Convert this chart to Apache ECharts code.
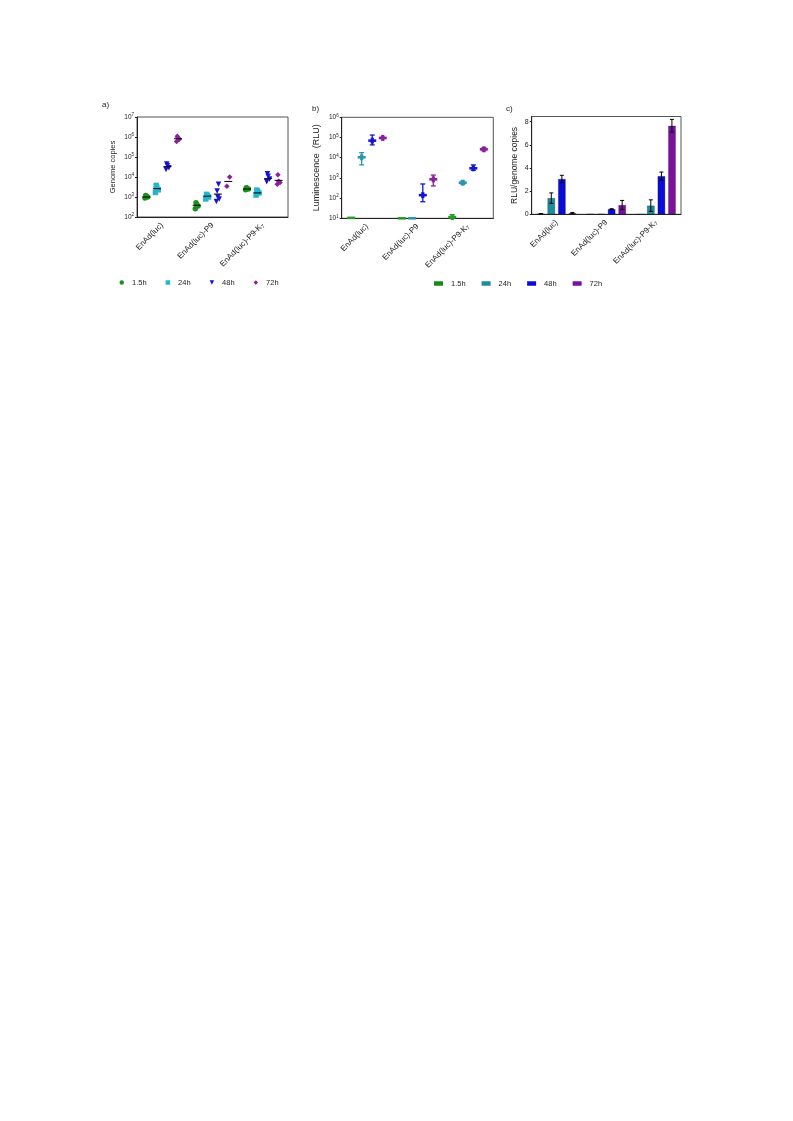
<!DOCTYPE html>
<html><head><meta charset="utf-8">
<script src="https://cdn.jsdelivr.net/npm/echarts@6/dist/echarts.min.js"></script>
<style>html,body{margin:0;padding:0;background:#fff}#c{width:793px;height:1121px}</style>
</head><body><div id="c"></div><script>
// ---------- data ----------
const categories = ['EnAd(luc)', 'EnAd(luc)-P9', 'EnAd(luc)-P9-K7'];
const timepoints = ['1.5h', '24h', '48h', '72h'];

// Panel a: genome copies, replicate points per category
const aRep15 = [[900, 1000, 1100, 1200], [260, 350, 420, 520], [2300, 2500, 2700, 2900]];
const aRep24 = [[1700, 2300, 3000, 3800], [800, 1000, 1200, 1350], [1250, 1600, 1950, 2200]];
const aRep48 = [[24000, 29000, 36000, 45000], [600, 800, 1000, 2000, 4300], [5800, 8000, 11000, 14500]];
const aRep72 = [[600000, 780000, 950000, 1100000], [3400, 10000], [4300, 5300, 6200, 13000]];
// Panel a: mean lines
const aMean15 = [1000, 385, 2500];
const aMean24 = [2600, 1100, 1600];
const aMean48 = [33000, 1400, 8300];
const aMean72 = [820000, 6000, 6800];

// Panel b: luminescence (RLU) mean, low, high
const bMean15 = [10.5, 10, 11.5];
const bLow15 = [10, 10, 10];
const bHigh15 = [11, 10, 15];
const bMean24 = [10500, 10, 580];
const bLow24 = [4400, 10, 480];
const bHigh24 = [17800, 10, 700];
const bMean48 = [70000, 140, 3000];
const bLow48 = [43000, 66, 2400];
const bHigh48 = [132000, 500, 4400];
const bMean72 = [95000, 850, 26000];
const bLow72 = [88000, 400, 22000];
const bHigh72 = [102000, 1380, 31000];

// Panel c: RLU / genome copies, mean and SD
const cMean15 = [0.05, 0.02, 0];
const cErr15 = [0.02, 0, 0];
const cMean24 = [1.4, 0.03, 0.75];
const cErr24 = [0.45, 0, 0.5];
const cMean48 = [3.05, 0.45, 3.3];
const cErr48 = [0.32, 0.03, 0.35];
const cMean72 = [0.1, 0.8, 7.65];
const cErr72 = [0.06, 0.4, 0.55];

// ---------- styles ----------
const FONT = 'Liberation Sans, Arial, sans-serif';
const colA = ['#1f8f1f', '#27b4cc', '#1414d2', '#8c1f9c'];
const colB = ['#2a9a2a', '#2a98aa', '#1414d2', '#8c1f9c'];
const colC = ['#168c16', '#1d8c9c', '#0c0cd8', '#7a10a0'];
const symA = ['circle', 'rect', 'path://M0,0 L10,0 L5,10 Z', 'diamond'];
const offs = [-15.8, -5.3, 5.3, 15.8];
const jitterPattern = [-1.4, 1.4, 0, -0.7, 0.7];

const gridA = { left: 137, top: 117, width: 151, height: 100 };
const gridB = { left: 341.7, top: 117.3, width: 151.6, height: 101 };
const gridC = { left: 531.7, top: 116.5, width: 149.3, height: 97.8 };

function catFmt(v) {
  if (v.endsWith('K7')) return v.slice(0, -1) + '{s|7}';
  return v;
}
function logFmt(v) {
  return '{b|10}{e|' + Math.round(Math.log10(v)) + '}';
}
const logRich = {
  b: { fontSize: 6.5, fontFamily: FONT, color: '#222' },
  e: { fontSize: 4.5, fontFamily: FONT, color: '#222', verticalAlign: 'top', padding: [0, 0, 4, 0] }
};
const catLabel = {
  rotate: 45, fontSize: 8, fontFamily: FONT, color: '#222', margin: 7, interval: 0,
  formatter: catFmt,
  rich: { s: { fontSize: 5.5, fontFamily: FONT, color: '#222', padding: [4, 0, 0, 0] } }
};
const axLine = { lineStyle: { color: '#222', width: 1 } };

function xCat(gridIndex) {
  return {
    type: 'category', gridIndex, data: categories,
    axisLine: axLine, axisTick: { alignWithLabel: true, length: 2.5, lineStyle: { color: '#222' } },
    axisLabel: catLabel, splitLine: { show: false }
  };
}

const series = [];
// Panel a scatter
const aReps = [aRep15, aRep24, aRep48, aRep72];
const aMeans = [aMean15, aMean24, aMean48, aMean72];
aReps.forEach((reps, i) => {
  const data = [];
  reps.forEach((arr, c) => {
    arr.forEach((v, j) => {
      const jit = jitterPattern[j % jitterPattern.length];
      data.push({ value: [c, v], symbolOffset: [offs[i] + jit, 0] });
    });
  });
  series.push({
    name: timepoints[i], type: 'scatter', xAxisIndex: 0, yAxisIndex: 0,
    symbol: symA[i], symbolSize: 5.5, itemStyle: { color: colA[i], opacity: 1 },
    data, z: 3, silent: true
  });
});
aMeans.forEach((m, i) => {
  series.push({
    name: 'a-mean-' + i, type: 'custom', xAxisIndex: 0, yAxisIndex: 0, z: 5, silent: true,
    data: m.map((v, c) => [c, v]),
    renderItem: (params, api) => {
      const p = api.coord([api.value(0), api.value(1)]);
      const x = p[0] + offs[i];
      return { type: 'line', shape: { x1: x - 4, y1: p[1], x2: x + 4, y2: p[1] }, style: { stroke: '#000', lineWidth: 1 } };
    }
  });
});

// Panel b error crosses
const bSets = [[bMean15, bLow15, bHigh15], [bMean24, bLow24, bHigh24], [bMean48, bLow48, bHigh48], [bMean72, bLow72, bHigh72]];
bSets.forEach((s, i) => {
  series.push({
    name: 'b-' + timepoints[i], type: 'custom', xAxisIndex: 1, yAxisIndex: 1, z: 4, silent: true,
    data: s[0].map((v, c) => [c, v, s[1][c], s[2][c]]),
    renderItem: (params, api) => {
      const c = api.value(0);
      const pm = api.coord([c, api.value(1)]);
      const pl = api.coord([c, api.value(2)]);
      const ph = api.coord([c, api.value(3)]);
      const x = pm[0] + offs[i];
      const col = colB[i];
      const ch = [];
      if (Math.abs(pl[1] - ph[1]) > 1) {
        ch.push({ type: 'line', shape: { x1: x, y1: pl[1], x2: x, y2: ph[1] }, style: { stroke: col, lineWidth: 1.3 } });
        ch.push({ type: 'line', shape: { x1: x - 2.5, y1: pl[1], x2: x + 2.5, y2: pl[1] }, style: { stroke: col, lineWidth: 1.3 } });
        ch.push({ type: 'line', shape: { x1: x - 2.5, y1: ph[1], x2: x + 2.5, y2: ph[1] }, style: { stroke: col, lineWidth: 1.3 } });
        ch.push({ type: 'rect', shape: { x: x - 1.6, y: pm[1] - 3, width: 3.2, height: 6 }, style: { fill: col } });
      }
      ch.push({ type: 'rect', shape: { x: x - 4, y: pm[1] - 1.3, width: 8, height: 2.6 }, style: { fill: col } });
      return { type: 'group', children: ch };
    }
  });
});

// Panel c bars
const cMeans = [cMean15, cMean24, cMean48, cMean72];
const cErrs = [cErr15, cErr24, cErr48, cErr72];
cMeans.forEach((m, i) => {
  series.push({
    name: timepoints[i], type: 'bar', xAxisIndex: 2, yAxisIndex: 2, silent: true,
    barWidth: 7.5, barGap: '41%', data: m,
    itemStyle: { color: colC[i], borderColor: 'rgba(20,20,40,0.6)', borderWidth: 0.5 }, z: 2
  });
});
cMeans.forEach((m, i) => {
  series.push({
    name: 'c-err-' + i, type: 'custom', xAxisIndex: 2, yAxisIndex: 2, z: 6, silent: true,
    data: m.map((v, c) => [c, v, cErrs[i][c]]),
    renderItem: (params, api) => {
      const c = api.value(0), v = api.value(1), e = api.value(2);
      if (e <= 0) return null;
      const pl = api.coord([c, v - e]);
      const ph = api.coord([c, v + e]);
      const x = pl[0] + offs[i];
      const st = { stroke: '#000', lineWidth: 1 };
      return { type: 'group', children: [
        { type: 'line', shape: { x1: x, y1: pl[1], x2: x, y2: ph[1] }, style: st },
        { type: 'line', shape: { x1: x - 2, y1: pl[1], x2: x + 2, y2: pl[1] }, style: st },
        { type: 'line', shape: { x1: x - 2, y1: ph[1], x2: x + 2, y2: ph[1] }, style: st }
      ] };
    }
  });
});

const legText = { fontSize: 7.5, fontFamily: FONT, color: '#222', padding: [0, 0, 0, 3] };
const option = {
  animation: false,
  textStyle: { fontFamily: FONT },
  grid: [
    Object.assign({ show: true, borderColor: '#555', borderWidth: 1 }, gridA),
    Object.assign({ show: true, borderColor: '#555', borderWidth: 1 }, gridB),
    Object.assign({ show: true, borderColor: '#555', borderWidth: 1 }, gridC)
  ],
  xAxis: [xCat(0), xCat(1), xCat(2)],
  yAxis: [
    {
      type: 'log', gridIndex: 0, min: 100, max: 1e7, logBase: 10, splitNumber: 5,
      name: 'Genome copies', nameLocation: 'middle', nameGap: 20,
      nameTextStyle: { fontSize: 7.5, fontFamily: FONT, color: '#222' },
      axisLine: { show: true, lineStyle: { color: '#222' } },
      axisTick: { show: true, length: 2, lineStyle: { color: '#222' } },
      axisLabel: { formatter: logFmt, rich: logRich, margin: 3 },
      splitLine: { show: false }, minorTick: { show: false }
    },
    {
      type: 'log', gridIndex: 1, min: 10, max: 1e6, logBase: 10, splitNumber: 5,
      name: 'Luminescence  (RLU)', nameLocation: 'middle', nameGap: 21,
      nameTextStyle: { fontSize: 9, fontFamily: FONT, color: '#222' },
      axisLine: { show: true, lineStyle: { color: '#222' } },
      axisTick: { show: true, length: 2, lineStyle: { color: '#222' } },
      axisLabel: { formatter: logFmt, rich: logRich, margin: 3 },
      splitLine: { show: false }
    },
    {
      type: 'value', gridIndex: 2, min: 0, max: 8.45, interval: 2,
      name: 'RLU/genome copies', nameLocation: 'middle', nameGap: 13,
      nameTextStyle: { fontSize: 8.5, fontFamily: FONT, color: '#222' },
      axisLine: { show: true, lineStyle: { color: '#222' } },
      axisTick: { show: true, length: 2, lineStyle: { color: '#222' } },
      axisLabel: { fontSize: 7, fontFamily: FONT, color: '#222', margin: 3, showMaxLabel: false },
      splitLine: { show: false }
    }
  ],
  legend: [
    {
      left: 119.5, top: 278.5, padding: 0, orient: 'horizontal', itemWidth: 4.5, itemHeight: 4.5, itemGap: 19,
      selectedMode: false, textStyle: legText,
      data: timepoints.map((t, i) => ({ name: t, icon: symA[i], itemStyle: { color: colA[i] } }))
    },
    {
      left: 434, top: 279.5, padding: 0, orient: 'horizontal', itemWidth: 9, itemHeight: 4.5, itemGap: 16,
      selectedMode: false, textStyle: legText,
      data: timepoints.map((t, i) => ({ name: t, icon: 'rect', itemStyle: { color: colC[i] } }))
    }
  ],
  graphic: [
    { type: 'text', left: 102, top: 101, style: { text: 'a)', fontSize: 8, fontFamily: FONT, fill: '#222' } },
    { type: 'text', left: 312, top: 105, style: { text: 'b)', fontSize: 8, fontFamily: FONT, fill: '#222' } },
    { type: 'text', left: 506, top: 105, style: { text: 'c)', fontSize: 8, fontFamily: FONT, fill: '#222' } }
  ],
  series
};
const chart = echarts.init(document.getElementById('c'), null, { renderer: 'canvas' });
chart.setOption(option);
</script></body></html>
